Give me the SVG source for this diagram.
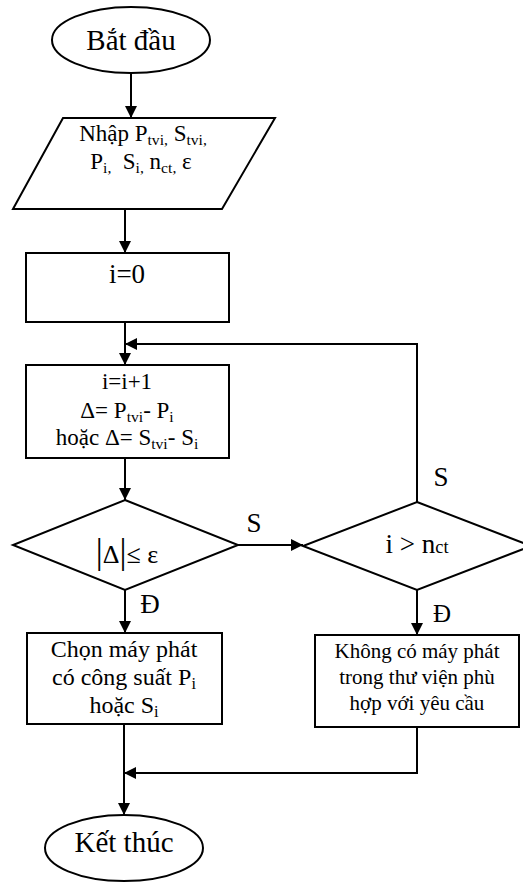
<svg xmlns="http://www.w3.org/2000/svg" width="523" height="882" viewBox="0 0 523 882">
<style>
.s{fill:#fff;stroke:#000;stroke-width:2}
.c{fill:none;stroke:#000;stroke-width:2}
text{font-family:'Liberation Serif','DejaVu Serif',serif;fill:#000;text-anchor:middle}
.sb{font-size:0.68em}
</style>
<defs>
<marker id="a" viewBox="0 0 12 12" refX="12" refY="6" markerWidth="12" markerHeight="12" markerUnits="userSpaceOnUse" orient="auto">
<path d="M0,0 L12,6 L0,12 Z" fill="#000"/>
</marker>
</defs>
<rect width="523" height="882" fill="#fff"/>
<g id="connectors">
<line class="c" x1="131" y1="73" x2="131" y2="118" marker-end="url(#a)"/>
<line class="c" x1="125" y1="209" x2="125" y2="253" marker-end="url(#a)"/>
<line class="c" x1="125" y1="322" x2="125" y2="365" marker-end="url(#a)"/>
<polyline class="c" points="417,502 417,344 125,344" marker-end="url(#a)"/>
<line class="c" x1="125" y1="458" x2="125" y2="500" marker-end="url(#a)"/>
<line class="c" x1="238" y1="545" x2="303" y2="545" marker-end="url(#a)"/>
<line class="c" x1="125" y1="590" x2="125" y2="633" marker-end="url(#a)"/>
<line class="c" x1="417" y1="590" x2="417" y2="635" marker-end="url(#a)"/>
<line class="c" x1="124" y1="724" x2="124" y2="815" marker-end="url(#a)"/>
<polyline class="c" points="417,727 417,773 124,773" marker-end="url(#a)"/>
<text x="254" y="532" font-size="27">S</text>
<text x="441" y="486" font-size="27">S</text>
<text x="150" y="613" font-size="27">Đ</text>
<text x="442" y="622" font-size="25">Đ</text>
</g>
<g id="start">
<ellipse class="s" cx="131" cy="40" rx="79" ry="33"/>
<text x="131" y="50" font-size="29">Bắt đầu</text>
</g>
<g id="input">
<polygon class="s" points="63,118 275,118 222,209 13,209"/>
<text x="143" y="141" font-size="23">Nhập P<tspan class="sb" dy="4">tvi,</tspan><tspan dy="-4"> S</tspan><tspan class="sb" dy="4">tvi,</tspan></text>
<text x="141" y="169" font-size="23">P<tspan class="sb" dy="4">i,</tspan><tspan dy="-4">&#160; S</tspan><tspan class="sb" dy="4">i,</tspan><tspan dy="-4"> n</tspan><tspan class="sb" dy="4">ct,</tspan><tspan dy="-4"> ε</tspan></text>
</g>
<g id="init">
<rect class="s" x="26" y="253" width="203" height="69"/>
<text x="127" y="283" font-size="27">i=0</text>
</g>
<g id="step">
<rect class="s" x="26" y="365" width="203" height="93"/>
<text x="127" y="389" font-size="23">i=i+1</text>
<text x="127" y="418" font-size="23">Δ= P<tspan class="sb" dy="4">tvi</tspan><tspan dy="-4">- P</tspan><tspan class="sb" dy="4">i</tspan></text>
<text x="127" y="445" font-size="23">hoặc Δ= S<tspan class="sb" dy="4">tvi</tspan><tspan dy="-4">- S</tspan><tspan class="sb" dy="4">i</tspan></text>
</g>
<g id="check">
<polygon class="s" points="125,500 238,545 125,590 13,545"/>
<text x="127" y="563" font-size="26"><tspan font-size="35">|</tspan>Δ<tspan font-size="35">|</tspan>≤ ε</text>
</g>
<g id="count">
<polygon class="s" points="417,502 531,546 417,590 303,546"/>
<text x="417" y="553" font-size="27">i &gt; n<tspan class="sb">ct</tspan></text>
</g>
<g id="choose">
<rect class="s" x="27" y="633" width="195" height="91"/>
<text x="124" y="657" font-size="24">Chọn máy phát</text>
<text x="124" y="685" font-size="24">có công suất P<tspan class="sb" dy="4">i</tspan></text>
<text x="124" y="713" font-size="24">hoặc S<tspan class="sb" dy="4">i</tspan></text>
</g>
<g id="none">
<rect class="s" x="315" y="635" width="204" height="92"/>
<text x="417" y="658" font-size="21">Không có máy phát</text>
<text x="417" y="684" font-size="21">trong thư viện phù</text>
<text x="417" y="710" font-size="21">hợp với yêu cầu</text>
</g>
<g id="end">
<ellipse class="s" cx="124" cy="848" rx="79" ry="33"/>
<text x="124" y="852" font-size="29">Kết thúc</text>
</g>
</svg>
